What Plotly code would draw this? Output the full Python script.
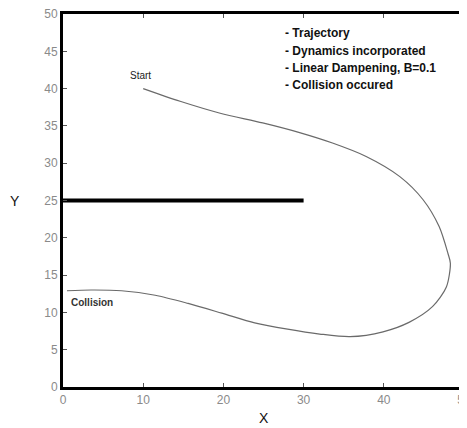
import plotly.graph_objects as go

# Trajectory
traj_x = [10.0, 14.6, 19.6, 24.9, 29.5, 33.6, 37.8, 42.0, 44.9, 46.9, 48.0, 48.3,
          47.8, 46.1, 43.2, 39.9, 35.8, 32.0, 28.0, 23.9, 19.8, 15.6, 11.5, 7.3, 3.5, 0.5]
traj_y = [40.0, 38.3, 36.7, 35.4, 34.1, 32.7, 30.9, 28.2, 25.1, 21.5, 17.9, 16.6,
          13.4, 10.8, 8.7, 7.4, 6.75, 7.1, 7.75, 8.6, 9.9, 11.2, 12.3, 12.9, 13.0, 12.9]

# Obstacle wall
wall_x = [0, 30]
wall_y = [25, 25]

notes = ["- Trajectory", "- Dynamics incorporated", "- Linear Dampening, B=0.1", "- Collision occured"]
notes_y = [47.4, 45.05, 42.8, 40.55]

x_ticks = [0, 10, 20, 30, 40, 50]
y_ticks = [0, 5, 10, 15, 20, 25, 30, 35, 40, 45, 50]

FONT = "Arial, Liberation Sans, sans-serif"

fig = go.Figure()
fig.add_trace(go.Scatter(x=traj_x, y=traj_y, mode="lines",
                         line=dict(color="#6a6a6a", width=1.2, shape="spline", smoothing=0.8),
                         hoverinfo="skip", cliponaxis=False))
fig.add_trace(go.Scatter(x=wall_x, y=wall_y, mode="lines",
                         line=dict(color="#000000", width=4), hoverinfo="skip"))

annotations = []
for t, yy in zip(notes, notes_y):
    annotations.append(dict(x=27.4, y=yy, xref="x", yref="y", text="<b>" + t + "</b>",
                            showarrow=False, xanchor="left", yanchor="middle",
                            font=dict(family=FONT, size=12, color="#111111")))
annotations.append(dict(x=9.7, y=41.8, xref="x", yref="y", text="Start", showarrow=False,
                        xanchor="center", yanchor="middle",
                        font=dict(family=FONT, size=10, color="#222222")))
annotations.append(dict(x=0.8, y=11.3, xref="x", yref="y", text="<b>Collision</b>", showarrow=False,
                        xanchor="left", yanchor="middle",
                        font=dict(family=FONT, size=10, color="#333333")))
annotations.append(dict(x=0, y=0.5, xref="paper", yref="paper", text="Y", showarrow=False,
                        xanchor="center", yanchor="middle", xshift=-48,
                        font=dict(family=FONT, size=14, color="#111111")))
annotations.append(dict(x=0.5, y=0, xref="paper", yref="paper", text="X", showarrow=False,
                        xanchor="center", yanchor="middle", yshift=-31,
                        font=dict(family=FONT, size=14, color="#111111")))

# page body has an 8px margin, so the figure is sized to fit inside the window
fig.update_layout(
    width=459, height=420,
    margin=dict(l=55, r=3, t=6, b=41),
    paper_bgcolor="white", plot_bgcolor="white",
    showlegend=False,
    annotations=annotations,
    xaxis=dict(range=[0, 50], tickvals=x_ticks, ticks="inside", ticklen=4, tickcolor="#555555",
               showline=True, linewidth=3, linecolor="black", mirror="ticks",
               showgrid=False, zeroline=False, automargin=False, ticklabeloverflow="allow",
               tickfont=dict(family=FONT, size=12, color="#8a8a8a")),
    yaxis=dict(range=[0, 50], tickvals=y_ticks, ticks="inside", ticklen=4, tickcolor="#555555",
               showline=True, linewidth=3, linecolor="black", mirror="ticks",
               showgrid=False, zeroline=False, automargin=False, ticklabeloverflow="allow",
               tickfont=dict(family=FONT, size=12, color="#8a8a8a")),
)

fig.write_html("out.html")
